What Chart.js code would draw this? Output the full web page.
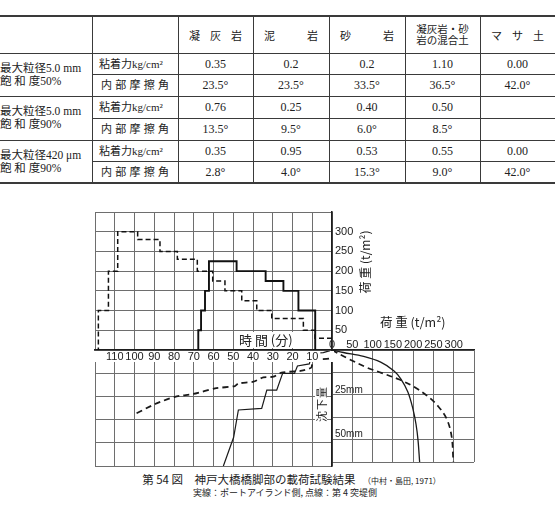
<!DOCTYPE html>
<html><head><meta charset="utf-8">
<script src="https://cdn.jsdelivr.net/npm/chart.js@4.4.1/dist/chart.umd.min.js"></script>
<style>
html,body{margin:0;padding:0;background:#fff;}
#root{position:relative;width:555px;height:508px;overflow:hidden;background:#fff;color:#222;font-family:"Noto Sans CJK JP",sans-serif;}
.abs{position:absolute;white-space:nowrap;}
canvas{position:absolute;}
</style></head><body><div id="root"></div>
<script>
// ---------- table data ----------
const materials = ['凝灰岩', '泥岩', '砂岩', '凝灰岩・砂岩の混合土', 'マサ土'];
const conditions = [['最大粒径5.0 mm', '飽 和 度50%'], ['最大粒径5.0 mm', '飽 和 度90%'], ['最大粒径420 μm', '飽 和 度90%']];
const properties = ['粘着力kg/cm²', '内部摩擦角'];
const cohesion = [['0.35', '0.2', '0.2', '1.10', '0.00'], ['0.76', '0.25', '0.40', '0.50', ''], ['0.35', '0.95', '0.53', '0.55', '0.00']];
const friction = [['23.5°', '23.5°', '33.5°', '36.5°', '42.0°'], ['13.5°', '9.5°', '6.0°', '8.5°', ''], ['2.8°', '4.0°', '15.3°', '9.0°', '42.0°']];

// ---------- chart data ----------
const timeTickLabels = [10, 20, 30, 40, 50, 60, 70, 80, 90, 100, 110];
const loadTickLabels = [50, 100, 150, 200, 250, 300];
const loadAxisLabels = [0, 50, 100, 150, 200, 250, 300];
const settleTickLabels = [25, 50];
// load (t/m2) vs time (min), step curves
const loadTimeSolidT = [8.5, 8.5, 17, 24.6, 33.6, 48.3, 62.3, 64.3, 66.3, 67.7];
const loadTimeSolidQ = [0, 100, 150, 175, 200, 225, 150, 100, 50, 0];
const loadTimeDashT = [0, 8.6, 14.5, 30.5, 38.1, 45.7, 54.2, 60.4, 68.2, 78.3, 87.1, 98.4, 108.5, 113.2, 118.3];
const loadTimeDashQ = [30, 50, 80, 100, 125, 150, 175, 200, 230, 250, 280, 300, 200, 100, 0];
// settlement (mm) vs time (min)
const settleTimeSolidT = [0, 4.4, 10, 11.5, 17.5, 19, 25, 28, 33, 35.6, 47.4, 49.8, 55];
const settleTimeSolidS = [0, 1.4, 1.8, 7.5, 8.6, 12.6, 12.6, 21.6, 21.6, 31.5, 32.3, 47, 62.5];
const settleTimeDashT = [0, 1, 9.5, 10.5, 16, 19, 25.5, 29.7, 34.8, 39.8, 47.4, 49.1, 59.2, 70.2, 79.5, 89.6, 99.7];
const settleTimeDashS = [0, 4.5, 5.4, 9.5, 11.3, 11.5, 12.2, 14.4, 14.7, 17.1, 18, 19.4, 20.7, 23.7, 25.2, 29.1, 34.5];
// settlement (mm) vs load (t/m2)
const loadSettleSolidQ = [0, 28, 78, 120, 153, 170, 187, 199, 207, 212, 216];
const loadSettleSolidS = [0, 1.4, 3.6, 6.8, 11.7, 16.2, 23.4, 32.4, 41.3, 50.3, 62.5];
const loadSettleDashQ = [0, 37, 87, 120, 166, 203, 237, 262, 283, 295, 299];
const loadSettleDashS = [0, 4.5, 9.9, 12.6, 16.5, 20.7, 26, 31.5, 38.6, 48.5, 62.5];

// ---------- helpers ----------
const root = document.getElementById('root');
function el(txt, css) {
  const d = document.createElement('div');
  d.className = 'abs';
  d.textContent = txt;
  Object.assign(d.style, css);
  root.appendChild(d);
  return d;
}
function hline(x1, x2, y, w) { el('', {left: x1 + 'px', top: (y - w / 2) + 'px', width: (x2 - x1) + 'px', height: w + 'px', background: '#3a3a3a'}); }
function vline(x, y1, y2, w) { el('', {left: (x - w / 2) + 'px', top: y1 + 'px', width: w + 'px', height: (y2 - y1) + 'px', background: '#3a3a3a'}); }
const serif = '"Liberation Serif","Noto Sans CJK JP",serif';

// ---------- table ----------
const colX = [0, 92, 178, 253, 329, 405, 480, 555];
const rowY = [16, 53, 74.5, 96, 118, 140, 161.5, 183];
hline(0, 555, rowY[0], 1.6);
hline(0, 555, rowY[1], 1);
for (let r = 2; r < 7; r++) hline(r % 2 === 0 ? colX[1] : 0, 555, rowY[r], 1);
hline(0, 555, rowY[7], 1.6);
for (let c = 1; c < 7; c++) vline(colX[c], rowY[0], rowY[7], 0.9);

function centerText(txt, x1, x2, cy, size, css) {
  return el(txt, Object.assign({left: x1 + 'px', width: (x2 - x1) + 'px', top: (cy - 8) + 'px', height: '16px', lineHeight: '16px', textAlign: 'center', fontSize: size + 'px', fontFamily: serif}, css || {}));
}
function spreadText(txt, x1, x2, cy, size) {
  const d = el('', {left: x1 + 'px', width: (x2 - x1) + 'px', top: (cy - 8) + 'px', height: '16px', lineHeight: '16px', display: 'flex', justifyContent: 'space-between', fontSize: size + 'px', fontFamily: serif});
  for (const ch of txt) { const s = document.createElement('span'); s.textContent = ch; d.appendChild(s); }
  return d;
}
const headCy = (rowY[0] + rowY[1]) / 2 + 1;
materials.forEach((m, j) => {
  const x1 = colX[j + 2], x2 = colX[j + 3];
  if (m.length <= 3) spreadText(m, x1 + 11, x2 - 11, headCy, 11);
  else {
    centerText(m.slice(0, 5), x1, x2, headCy - 5.5, 10.5);
    centerText(m.slice(5), x1, x2, headCy + 5.5, 10.5);
  }
});
conditions.forEach((cond, g) => {
  const cy = (rowY[2 + 2 * g - 1] + rowY[2 + 2 * g + 1]) / 2;
  el(cond[0], {left: '0px', top: (cy - 14) + 'px', height: '14px', lineHeight: '14px', fontSize: '11.5px', fontFamily: serif});
  el(cond[1], {left: '0px', top: (cy - 1) + 'px', height: '14px', lineHeight: '14px', fontSize: '11.5px', fontFamily: serif});
  const rows = [cohesion[g], friction[g]];
  rows.forEach((vals, k) => {
    const r = 1 + 2 * g + k;
    const cy2 = (rowY[r] + rowY[r + 1]) / 2;
    if (k === 0) el(properties[0], {left: (colX[1] + 7) + 'px', top: (cy2 - 8) + 'px', height: '16px', lineHeight: '16px', fontSize: '11px', fontFamily: serif});
    else spreadText(properties[1], colX[1] + 9, colX[2] - 9, cy2, 11);
    vals.forEach((v, j) => centerText(v, colX[j + 2], colX[j + 3], cy2, 12));
  });
});

// ---------- charts ----------
const gridColor = '#6e6e6e';
const axisColor = '#1e1e1e';
const tickFont = {family: 'Liberation Sans', size: 11, lineHeight: 1};
const pts = (xs, ys) => xs.map((x, i) => ({x: x, y: ys[i]}));
function mkCanvas(l, t, w, h, z) {
  const c = document.createElement('canvas');
  c.width = w; c.height = h;
  c.style.left = l + 'px'; c.style.top = t + 'px'; c.style.zIndex = z;
  root.appendChild(c);
  return c;
}
const baseOpts = (padding) => ({
  responsive: false, animation: false, events: [],
  layout: {padding: padding},
  plugins: {legend: {display: false}, tooltip: {enabled: false}},
  elements: {point: {radius: 0}}
});
const grid = {color: gridColor, lineWidth: 1, drawTicks: false};
const border = {display: true, color: axisColor, width: 1.6};

// Chart B: settlement vs time (lower left)
const cB = mkCanvas(85, 340, 250, 130, 1);
new Chart(cB, {
  type: 'line',
  data: {datasets: [
    {data: pts(settleTimeSolidT, settleTimeSolidS), borderColor: '#1a1a1a', borderWidth: 1.2, tension: 0, fill: false},
    {data: pts(settleTimeDashT, settleTimeDashS), borderColor: '#1a1a1a', borderWidth: 1.8, borderDash: [6, 4], tension: 0.2, fill: false}
  ]},
  options: Object.assign(baseOpts({left: 10, top: 10, right: 3, bottom: 4}), {
    scales: {
      x: {type: 'linear', reverse: true, min: 0, max: 120, position: 'top', afterFit: s => { s.height = 0; },
        ticks: {display: false, stepSize: 10}, grid: grid, border: border},
      y: {type: 'linear', reverse: true, min: 0, max: 62.5, position: 'right', afterFit: s => { s.width = 0; },
        ticks: {display: false, stepSize: 12.5}, grid: grid, border: border}
    }
  })
});

// Chart C: settlement vs load (lower right)
const cC = mkCanvas(322, 330, 160, 140, 2);
new Chart(cC, {
  type: 'line',
  data: {datasets: [
    {data: pts(loadSettleSolidQ, loadSettleSolidS), borderColor: '#1a1a1a', borderWidth: 1.3, tension: 0.35, fill: false},
    {data: pts(loadSettleDashQ, loadSettleDashS), borderColor: '#1a1a1a', borderWidth: 1.7, borderDash: [6, 4], tension: 0.35, fill: false}
  ]},
  options: Object.assign(baseOpts({left: 10, top: 0, right: 8, bottom: 4}), {
    scales: {
      x: {type: 'linear', min: 0, max: 350, position: 'top', afterFit: s => { s.height = 20; },
        ticks: {stepSize: 50, autoSkip: false, maxRotation: 0, padding: 0, font: tickFont, color: '#222',
          callback: v => loadAxisLabels.includes(v) ? String(v) : ''},
        grid: grid, border: border},
      y: {type: 'linear', reverse: true, min: 0, max: 62.5, position: 'left', afterFit: s => { s.width = 0; },
        ticks: {stepSize: 12.5, mirror: true, padding: 3, labelOffset: -5, font: {family: 'Liberation Sans', size: 10, lineHeight: 1}, color: '#222',
          callback: v => settleTickLabels.includes(v) ? v + 'mm' : ''},
        grid: grid, border: border}
    }
  })
});

// Chart A: load vs time (upper left)
const cA = mkCanvas(85, 200, 300, 165, 3);
new Chart(cA, {
  type: 'line',
  data: {datasets: [
    {data: pts(loadTimeSolidT, loadTimeSolidQ), stepped: true, borderColor: '#111', borderWidth: 1.9, fill: false},
    {data: pts(loadTimeDashT, loadTimeDashQ), stepped: true, borderColor: '#111', borderWidth: 1.5, borderDash: [5, 3], fill: false}
  ]},
  options: Object.assign(baseOpts({left: 10, top: 12, right: 0, bottom: 0}), {
    scales: {
      x: {type: 'linear', reverse: true, min: 0, max: 120, position: 'bottom', afterFit: s => { s.height = 15; },
        ticks: {stepSize: 10, autoSkip: false, maxRotation: 0, padding: 1, font: tickFont, color: '#222',
          showLabelBackdrop: true, backdropColor: '#fff', backdropPadding: {x: 2, y: 0},
          callback: v => timeTickLabels.includes(v) ? String(v) : ''},
        grid: grid, border: border},
      y: {type: 'linear', min: 0, max: 350, position: 'right', afterFit: s => { s.width = 53; },
        ticks: {stepSize: 50, padding: 3, font: tickFont, color: '#222',
          callback: v => loadTickLabels.includes(v) ? String(v) : ''},
        grid: grid, border: border}
    }
  })
});

// ---------- chart texts ----------
el('時 間 (分)', {left: '237px', top: '332px', height: '16px', lineHeight: '16px', fontSize: '13px', background: '#fff', padding: '0 2px', zIndex: 5});
el('荷 重 (t/m²)', {left: '365px', top: '262px', fontSize: '12px', lineHeight: '14px', transform: 'translate(-50%,-50%) rotate(-90deg)', zIndex: 5});
el('荷 重 (t/m²)', {left: '380px', top: '314px', height: '16px', lineHeight: '16px', fontSize: '12.5px', zIndex: 5});
el('沈下量', {left: '321px', top: '404px', fontSize: '11px', lineHeight: '12px', letterSpacing: '1px', background: '#fff', transform: 'translate(-50%,-50%) rotate(-90deg)', zIndex: 5});

// ---------- caption ----------
const cap = el('', {left: '14px', width: '555px', top: '472px', height: '15px', lineHeight: '15px', textAlign: 'center', fontSize: '11.5px'});
cap.innerHTML = '第 54 図　神戸大橋橋脚部の載荷試験結果　<span style="font-size:8px">（中村・島田, 1971）</span>';
el('実線：ポートアイランド側, 点線：第 4 突堤側', {left: '0px', width: '570px', top: '487px', height: '12px', lineHeight: '12px', textAlign: 'center', fontSize: '9px'});
</script></body></html>
